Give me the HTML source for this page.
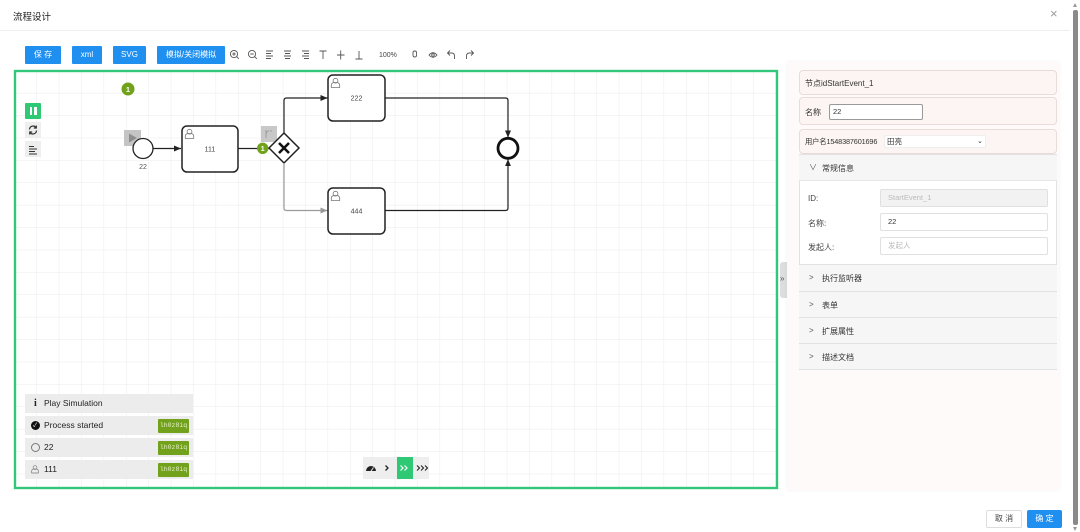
<!DOCTYPE html>
<html><head><meta charset="utf-8">
<style>
*{margin:0;padding:0;box-sizing:border-box}
body{width:1080px;height:532px;overflow:hidden;background:#fff;font-family:"Liberation Sans","Noto Sans CJK SC",sans-serif;position:relative;color:#333}
.a{position:absolute}
.btn{position:absolute;top:46px;height:18px;background:#1f8ff0;color:#fff;font-size:8px;line-height:18px;text-align:center;border-radius:1px}
.log{position:absolute;left:25px;width:168px;height:19px;background:#ececec;font-size:8.5px;line-height:19px;color:#222}
.log .t{position:absolute;left:19px;top:0}
.log .b{position:absolute;left:133px;top:2.5px;width:31px;height:14px;background:#72a21c;color:#e6f0c8;font-family:"Liberation Mono",monospace;font-size:6.5px;line-height:14px;text-align:center;border-radius:1px}
.box{position:absolute;left:799px;width:258px;border:1px solid #e8dcda;border-radius:4px;background:#fdf5f3;font-size:8px;color:#333}
.sec{position:absolute;left:799px;width:258px;background:#f6f6f6;border-top:1px solid #e2e2e2;font-size:8px;color:#333}
.sec .c{position:absolute;left:10px;color:#555}
.sec .t{position:absolute;left:23px}
.lbl{position:absolute;left:808px;font-size:8px;color:#444}
.inp{position:absolute;left:880px;width:168px;height:18px;border:1px solid #e0e0e0;border-radius:2px;background:#fff;font-size:7.5px;line-height:16px;padding-left:7px;color:#333}
</style></head><body>

<!-- header -->
<div class="a" style="left:13px;top:9px;font-size:9.5px;color:#222">流程设计</div>
<div class="a" style="left:1050px;top:7px;font-size:13px;color:#999;line-height:14px">×</div>
<div class="a" style="left:0;top:30px;width:1070px;height:1px;background:#eee"></div>

<!-- scrollbar -->
<div class="a" style="left:1073px;top:10px;width:5px;height:515px;background:#8a8a8a;border-radius:2px"></div>
<div class="a" style="left:1073px;top:3px;width:0;height:0;border-left:2.5px solid transparent;border-right:2.5px solid transparent;border-bottom:4px solid #999"></div>
<div class="a" style="left:1073px;top:527px;width:0;height:0;border-left:2.5px solid transparent;border-right:2.5px solid transparent;border-top:4px solid #999"></div>

<!-- toolbar -->
<div class="btn" style="left:25px;width:36px">保 存</div>
<div class="btn" style="left:72px;width:30px">xml</div>
<div class="btn" style="left:113px;width:33px">SVG</div>
<div class="btn" style="left:157px;width:68px">模拟/关闭模拟</div>
<svg class="a" style="left:0;top:0" width="500" height="70" fill="none" stroke="#555" stroke-width="0.9">
  <circle cx="234" cy="54" r="3.6"/><path d="M232.3 54h3.4M234 52.3v3.4M236.6 56.6l2.2 2.2"/>
  <circle cx="252" cy="54" r="3.6"/><path d="M250.3 54h3.4M254.6 56.6l2.2 2.2"/>
  <path d="M266 51h7M266 53.5h5M266 56h7M266 58.5h5"/>
  <path d="M284 51h7M285 53.5h5M284 56h7M285 58.5h5"/>
  <path d="M302 51h7M304 53.5h5M302 56h7M304 58.5h5"/>
  <path d="M319.5 51h7M323 51v8"/>
  <path d="M337 55h7.5M340.7 50.5v9"/>
  <path d="M355.5 59h7M359 51v8"/>
  <rect x="413" y="51" width="3.5" height="6" rx="1.6"/>
  <path d="M429 55q4 -4.5 8 0q-4 4.5 -8 0z"/><circle cx="433" cy="55" r="1.3"/>
  <path d="M454.5 59v-3q0-3-3-3h-3.5M450 50.5l-2.5 2.5 2.5 2.5"/>
  <path d="M466.5 59v-3q0-3 3-3h3.5M471 50.5l2.5 2.5-2.5 2.5"/>
</svg>
<div class="a" style="left:379px;top:52px;font-size:7px;color:#444">100%</div>

<!-- canvas -->
<svg class="a" style="left:0;top:0" width="790" height="500">
  <defs>
    <pattern id="g" x="14" y="70.5" width="22.4" height="22.4" patternUnits="userSpaceOnUse">
      <path d="M0 0H22.4M0 0V22.4" stroke="#ebebeb" stroke-width="1" fill="none"/>
    </pattern>
    <marker id="ar" markerWidth="8" markerHeight="8" refX="7" refY="4" orient="auto" markerUnits="userSpaceOnUse">
      <path d="M0 1L7 4L0 7z" fill="#222"/>
    </marker>
    <marker id="ag" markerWidth="8" markerHeight="8" refX="7" refY="4" orient="auto" markerUnits="userSpaceOnUse">
      <path d="M0 1L7 4L0 7z" fill="#999"/>
    </marker>
    <g id="usr" fill="none" stroke="#777" stroke-width="0.8">
      <circle cx="5" cy="3.2" r="2.4"/>
      <path d="M0.8 10v-2.2q0-2.3 2.5-2.8h3.4q2.5 0.5 2.5 2.8v2.2z"/>
    </g>
  </defs>
  <rect x="15" y="71" width="762" height="417" fill="url(#g)"/>
  <rect x="15" y="71" width="762" height="417" fill="none" stroke="#34c77b" stroke-width="2.4"/>

  <circle cx="128" cy="89" r="6.5" fill="#72a21c"/>
  <text x="128" y="91.8" font-size="7.5" fill="#fff" text-anchor="middle" font-family="Liberation Sans" font-weight="bold">1</text>

  <rect x="124" y="130" width="17" height="16" fill="#c4c4c4"/>
  <path d="M129 133.5L129 142.5L137 138z" fill="#8d8d8d"/>
  <circle cx="143" cy="148.5" r="10" fill="#fff" stroke="#222" stroke-width="1.3"/>
  <text x="143" y="169" font-size="7" fill="#555" text-anchor="middle" font-family="Liberation Sans">22</text>
  <path d="M153 148.5H181" stroke="#222" stroke-width="1.2" marker-end="url(#ar)"/>

  <rect x="182" y="126" width="56" height="46" rx="5" fill="#fff" stroke="#222" stroke-width="1.5"/>
  <use href="#usr" x="184.5" y="128.5"/>
  <text x="210" y="151.5" font-size="7" fill="#444" text-anchor="middle" font-family="Liberation Sans">111</text>
  <path d="M238 148.5H269" stroke="#222" stroke-width="1.2"/>

  <rect x="261" y="126" width="16" height="16" fill="#c8c8c8"/>
  <path d="M266 130v8M266 134q0-2 3-3.5M271 130v2" stroke="#999" stroke-width="0.9" fill="none"/>
  <path d="M284 133L299 148L284 163L269 148z" fill="#fff" stroke="#222" stroke-width="1.5"/>
  <path d="M279 143L289 153M289 143L279 153" stroke="#111" stroke-width="2.6"/>
  <circle cx="262.7" cy="148.3" r="5.7" fill="#72a21c"/>
  <text x="262.7" y="151" font-size="7" fill="#fff" text-anchor="middle" font-family="Liberation Sans" font-weight="bold">1</text>

  <path d="M284 133V100.5Q284 98 286.5 98H327.5" fill="none" stroke="#222" stroke-width="1.2" marker-end="url(#ar)"/>
  <path d="M284 163V208Q284 210.5 286.5 210.5H327.5" fill="none" stroke="#999" stroke-width="1.2" marker-end="url(#ag)"/>
  <path d="M385 98H505.5Q508 98 508 100.5V137.5" fill="none" stroke="#222" stroke-width="1.2" marker-end="url(#ar)"/>
  <path d="M385 210.5H505.5Q508 210.5 508 208V159.2" fill="none" stroke="#222" stroke-width="1.2" marker-end="url(#ar)"/>

  <rect x="328" y="75" width="57" height="46" rx="5" fill="#fff" stroke="#222" stroke-width="1.5"/>
  <use href="#usr" x="330.5" y="77.5"/>
  <text x="356.5" y="100.5" font-size="7" fill="#444" text-anchor="middle" font-family="Liberation Sans">222</text>
  <rect x="328" y="188" width="57" height="46" rx="5" fill="#fff" stroke="#222" stroke-width="1.5"/>
  <use href="#usr" x="330.5" y="190.5"/>
  <text x="356.5" y="213.5" font-size="7" fill="#444" text-anchor="middle" font-family="Liberation Sans">444</text>

  <circle cx="508" cy="148.3" r="10" fill="#fff" stroke="#111" stroke-width="2.8"/>
</svg>

<!-- palette -->
<div class="a" style="left:25px;top:103px;width:16px;height:16px;background:#2fc874;border-radius:1px"></div>
<div class="a" style="left:29.5px;top:107px;width:2.5px;height:8px;background:#fff"></div>
<div class="a" style="left:34px;top:107px;width:2.5px;height:8px;background:#fff"></div>
<div class="a" style="left:25px;top:122px;width:16px;height:16px;background:#eee"></div>
<div class="a" style="left:25px;top:141px;width:16px;height:16px;background:#eee"></div>
<svg class="a" style="left:25px;top:122px" width="16" height="36" fill="none" stroke="#333" stroke-width="1.2">
  <path d="M4.5 7.5a3.6 3.6 0 0 1 6.5-2M11.5 8.5a3.6 3.6 0 0 1-6.5 2"/>
  <path d="M11.3 3.5v2.5h-2.5M4.7 12.5v-2.5h2.5"/>
  <path d="M4 24.5h5M4 27h8M4 29.5h6M4 32h8" stroke-width="1"/>
</svg>

<!-- log -->
<div class="log" style="top:394px"><span class="a" style="left:9px;font-weight:bold;font-family:'Liberation Serif',serif;font-size:10px">i</span><span class="t">Play Simulation</span></div>
<div class="log" style="top:416px"><span class="a" style="left:6px;top:5px;width:9px;height:9px;border-radius:50%;background:#111"></span><span class="a" style="left:8px;top:6px;font-size:6px;color:#fff;line-height:8px">✓</span><span class="t">Process started</span><span class="b">lh0z8iq</span></div>
<div class="log" style="top:438px"><span class="a" style="left:6px;top:5px;width:9px;height:9px;border-radius:50%;border:1px solid #777"></span><span class="t">22</span><span class="b">lh0z8iq</span></div>
<div class="log" style="top:460px"><svg class="a" style="left:6px;top:5px" width="9" height="9"><use href="#usr" transform="scale(0.8)"/></svg><span class="t">111</span><span class="b">lh0z8iq</span></div>

<!-- speed -->
<div class="a" style="left:363px;top:457px;width:66px;height:22px;background:#eee"></div>
<div class="a" style="left:397px;top:457px;width:16px;height:22px;background:#2fc874"></div>
<svg class="a" style="left:363px;top:457px" width="66" height="22">
  <path d="M3 14a5 5 0 0 1 10 0z" fill="#222"/>
  <path d="M8 14l2.5-3.5" stroke="#eee" stroke-width="1"/>
  <path d="M22.5 8.5l2.5 2.5-2.5 2.5" fill="none" stroke="#222" stroke-width="1.3"/>
  <path d="M37.5 8.5l2.5 2.5-2.5 2.5M41.5 8.5l2.5 2.5-2.5 2.5" fill="none" stroke="#fff" stroke-width="1.2"/>
  <path d="M54 8.5l2.5 2.5-2.5 2.5M58 8.5l2.5 2.5-2.5 2.5M62 8.5l2.5 2.5-2.5 2.5" fill="none" stroke="#222" stroke-width="1.1"/>
</svg>

<!-- toggle tab -->
<div class="a" style="left:780px;top:262px;width:8px;height:36px;background:#ddd;border-radius:3px 0 0 3px"></div>
<div class="a" style="left:780px;top:274px;font-size:8px;color:#555">»</div>

<!-- right panel -->
<div class="a" style="left:787px;top:62px;width:272px;height:428px;background:#fffafa;box-shadow:0 0 4px rgba(0,0,0,0.06)"></div>
<div class="box" style="top:70px;height:25px"><span class="a" style="left:5px;top:7px">节点idStartEvent_1</span></div>
<div class="box" style="top:97px;height:28px"><span class="a" style="left:5px;top:9px">名称</span>
  <span class="a" style="left:29px;top:6px;width:94px;height:16px;border:1px solid #999;border-radius:2px;background:#fff;font-size:7.5px;line-height:14px;padding-left:3px">22</span></div>
<div class="box" style="top:129px;height:25px"><span class="a" style="left:5px;top:7px;font-size:7.3px;letter-spacing:-0.15px;white-space:nowrap">用户名1548387601696</span>
  <span class="a" style="left:84px;top:5px;width:102px;height:13px;background:#fff;border:1px solid #eee;border-radius:2px;font-size:7.5px;line-height:11px;padding-left:2px">田亮<span class="a" style="left:92px;top:0;font-size:7px">⌄</span></span></div>

<div class="a" style="left:799px;top:154px;width:258px;height:216px;background:#fff;border:1px solid #e2e2e2;border-top:none"></div>
<div class="sec" style="top:154px;height:27px;border-bottom:1px solid #e8e8e8"><span class="c" style="top:7px">∨</span><span class="t" style="top:8px">常规信息</span></div>
<div class="lbl" style="top:194px">ID:</div>
<div class="inp" style="top:189px;background:#f2f2f2;color:#bbb">StartEvent_1</div>
<div class="lbl" style="top:218px">名称:</div>
<div class="inp" style="top:213px">22</div>
<div class="lbl" style="top:242px">发起人:</div>
<div class="inp" style="top:237px;color:#bbb">发起人</div>
<div class="sec" style="top:264px;height:27px"><span class="c" style="top:8px">&gt;</span><span class="t" style="top:8px">执行监听器</span></div>
<div class="sec" style="top:291px;height:26px"><span class="c" style="top:8px">&gt;</span><span class="t" style="top:8px">表单</span></div>
<div class="sec" style="top:317px;height:26px"><span class="c" style="top:8px">&gt;</span><span class="t" style="top:8px">扩展属性</span></div>
<div class="sec" style="top:343px;height:27px;border-bottom:1px solid #e2e2e2"><span class="c" style="top:8px">&gt;</span><span class="t" style="top:8px">描述文档</span></div>

<!-- footer -->
<div class="a" style="left:986px;top:510px;width:36px;height:18px;border:1px solid #ddd;border-radius:2px;font-size:8px;line-height:16px;text-align:center;color:#444">取 消</div>
<div class="a" style="left:1027px;top:510px;width:35px;height:18px;background:#1f8ff0;border-radius:2px;font-size:8px;line-height:18px;text-align:center;color:#fff">确 定</div>

</body></html>
